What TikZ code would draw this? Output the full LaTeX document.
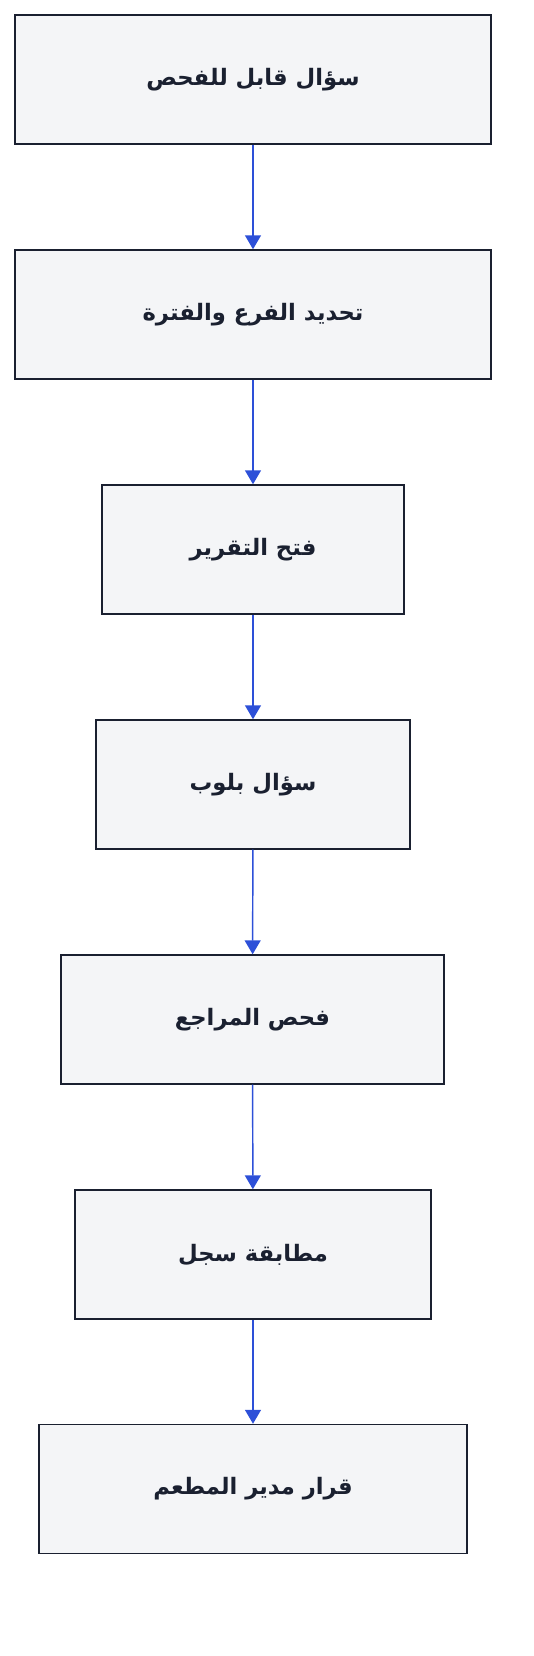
\documentclass[tikz,border=0pt]{standalone}
\usepackage{fontspec}
\usetikzlibrary{arrows.meta}
\newfontfamily\arabicfont[Script=Arabic]{DejaVu Sans}
\TeXXeTstate=1
\definecolor{boxfill}{HTML}{F4F5F7}
\definecolor{boxline}{HTML}{1A2030}
\definecolor{flowblue}{HTML}{2D50D8}

\begin{document}
\begin{tikzpicture}[
    x=0.75pt,y=-0.75pt,
    stepbox/.style={draw=boxline, line width=1.1pt, fill=boxfill, minimum height=96.75pt,
      inner sep=0pt, font=\arabicfont\bfseries\fontsize{17}{20}\selectfont, text=boxline},
    flow/.style={flowblue, line width=1.1pt, -{Triangle[length=10.5pt,width=12pt]}}
    ]
    \useasboundingbox (0, 0) rectangle (534, 1656);
    \node[stepbox, minimum width=357pt] (q) at (253, 79.5) {\beginR سؤال قابل للفحص\endR};
    \node[stepbox, minimum width=357pt] (branch) at (253, 314.5) {\beginR تحديد الفرع والفترة\endR};
    \node[stepbox, minimum width=226.5pt] (report) at (253, 549.5) {\beginR فتح التقرير\endR};
    \node[stepbox, minimum width=235.5pt] (blob) at (253, 784.5) {\beginR سؤال بلوب\endR};
    \node[stepbox, minimum width=287.25pt] (refs) at (252.5, 1019.5) {\beginR فحص المراجع\endR};
    \node[stepbox, minimum width=267pt] (match) at (253, 1254.5) {\beginR مطابقة سجل\endR};
    \node[stepbox, minimum width=321pt] (manager) at (253, 1489) {\beginR قرار مدير المطعم\endR};
    \draw[flow] (q) -- (branch);
    \draw[flow] (branch) -- (report);
    \draw[flow] (report) -- (blob);
    \draw[flow] (blob) -- (refs);
    \draw[flow] (refs) -- (match);
    \draw[flow] (match) -- (manager);
\end{tikzpicture}
\end{document}
